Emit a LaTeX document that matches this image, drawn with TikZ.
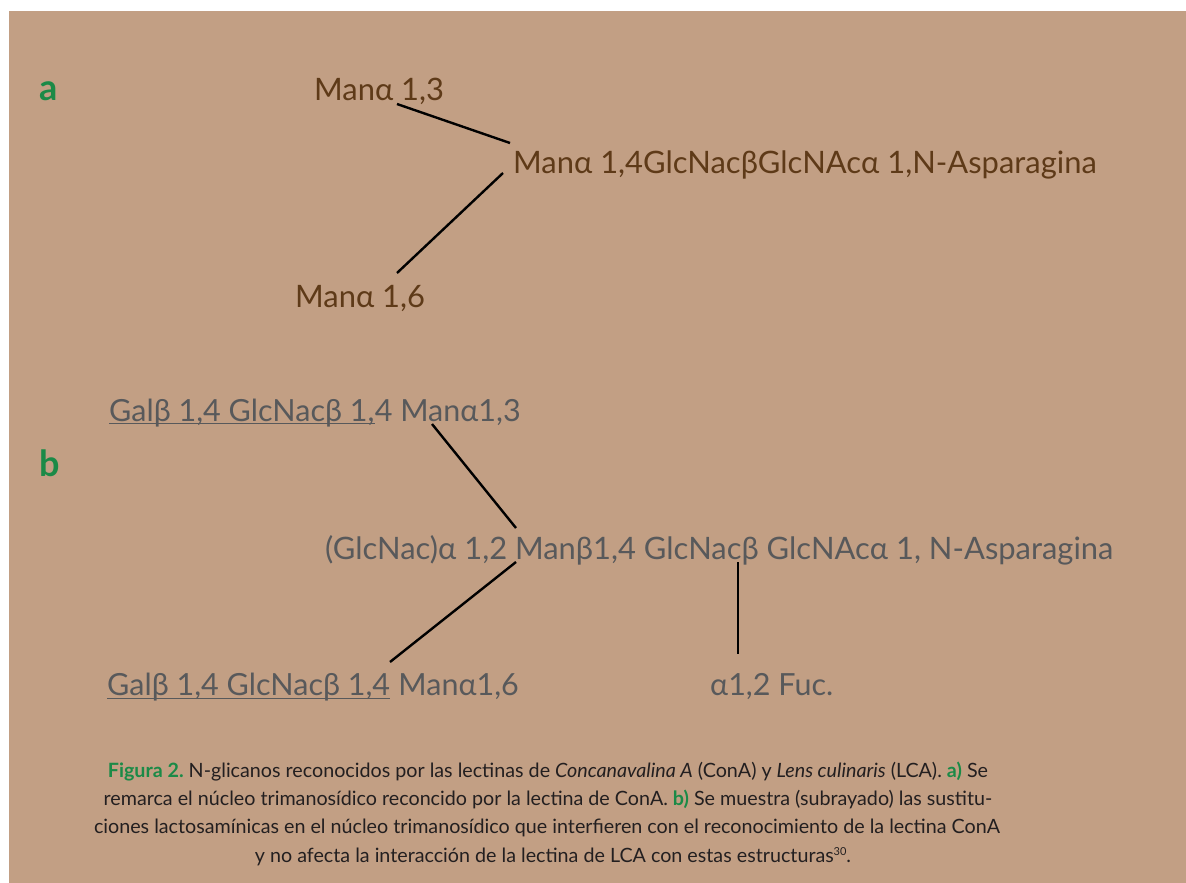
\documentclass[tikz,border=0pt]{standalone}
\usepackage{fontspec}
\setmainfont{Lato}
\frenchspacing
\definecolor{paper}{HTML}{C29F84}
\definecolor{brownink}{HTML}{5E3A18}
\definecolor{grayink}{HTML}{58595B}
\definecolor{leaf}{HTML}{1B8A47}
\definecolor{capink}{HTML}{231F20}
\newcommand{\refmark}[1]{{\fontsize{11}{11}\selectfont\raisebox{7pt}{#1}}}
\begin{document}
\begin{tikzpicture}[x=1pt,y=-1pt,
  txt/.style={inner sep=0pt, anchor=base west},
  brown/.style={txt, text=brownink, font=\fontsize{30.9}{36}\selectfont},
  gray/.style={txt, text=grayink, font=\fontsize{30.9}{36}\selectfont},
  shortgray/.style={gray, font=\fontsize{30.5}{36}\selectfont},
  panel/.style={txt, text=leaf, font=\fontsize{36}{40}\selectfont\bfseries},
  capline/.style={inner sep=0pt, anchor=base, text=capink, font=\fontsize{19.7}{22}\selectfont},
  link/.style={black, line width=2.4pt},
  uline/.style={grayink, line width=1.4pt}]
\useasboundingbox (0,0) rectangle (1186,883);
\fill[paper] (9,11) rectangle (1186,883);

% panel a
\node[panel] (la) at (39,100) {a};
\node[brown] (a13) at (314,100) {Manα 1,3};
\node[brown] (acore) at (513,173) {Manα 1,4GlcNacβGlcNAcα 1,N-Asparagina};
\node[brown] (a16) at (295,307) {Manα 1,6};
\coordinate (a13end) at (397,104);
\coordinate (acoreup) at (510,143);
\coordinate (acoredn) at (503,173);
\coordinate (a16end) at (397,273);
\draw[link] (a13end) -- (acoreup);
\draw[link] (acoredn) -- (a16end);

% panel b
\node[panel] (lb) at (39,476) {b};
\node[shortgray] (b13u) at (109,421) {Galβ 1,4 GlcNacβ 1,};
\node[shortgray] (b13) at (b13u.base east) {4 Manα1,3};
\draw[uline] ([yshift=-2.5pt]b13u.base west) -- ([yshift=-2.5pt]b13u.base east);
\node[gray] (bcore) at (325,559) {(GlcNac)α 1,2 Manβ1,4 GlcNacβ GlcNAcα 1, N-Asparagina};
\node[shortgray] (b16u) at (107,695) {Galβ 1,4 GlcNacβ 1,4};
\node[shortgray] (b16) at ([xshift=8pt]b16u.base east) {Manα1,6};
\draw[uline] ([yshift=-3.5pt]b16u.base west) -- ([yshift=-3.5pt]b16u.base east);
\node[shortgray] (fuc) at (710,695) {α1,2 Fuc.};
\coordinate (b13end) at (432,424);
\coordinate (bcoreup) at (516,528);
\coordinate (bcoredn) at (516,562);
\coordinate (b16end) at (390,662);
\coordinate (bcorebr) at (738,562);
\coordinate (fucend) at (738,654);
\draw[link] (b13end) -- (bcoreup);
\draw[link] (bcoredn) -- (b16end);
\draw[link] (bcorebr) -- (fucend);

% caption
\node[capline] (c1) at (548,777) {{\color{leaf}\bfseries Figura 2.} N-glicanos reconocidos por las lectinas de \textit{Concanavalina A} (ConA) y \textit{Lens culinaris} (LCA). {\color{leaf}\bfseries a)} Se};
\node[capline] (c2) at (548,805) {remarca el núcleo trimanosídico reconcido por la lectina de ConA. {\color{leaf}\bfseries b)} Se muestra (subrayado) las sustitu-};
\node[capline] (c3) at (547,833) {ciones lactosamínicas en el núcleo trimanosídico que interfieren con el reconocimiento de la lectina ConA};
\node[capline] (c4) at (553,862) {y no afecta la interacción de la lectina de LCA con estas estructuras\refmark{30}.};
\end{tikzpicture}
\end{document}
